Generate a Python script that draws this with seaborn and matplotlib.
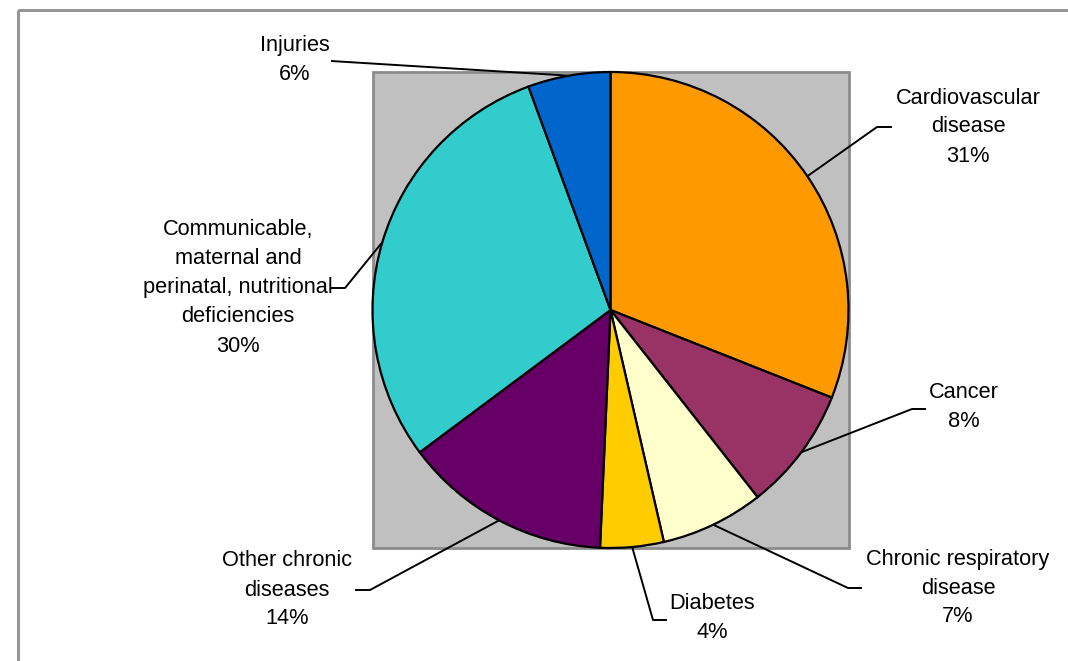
import numpy as np
import matplotlib
matplotlib.use('Agg')
import matplotlib.pyplot as plt
import seaborn as sns
from matplotlib.patches import Rectangle

# Share of deaths by cause (clockwise from 12 o'clock)
causes = ['Cardiovascular\ndisease', 'Cancer', 'Chronic respiratory\ndisease', 'Diabetes',
          'Other chronic\ndiseases', 'Communicable,\nmaternal and\nperinatal, nutritional\ndeficiencies',
          'Injuries']
shares = [31.0, 8.4, 7.0, 4.3, 14.1, 29.6, 5.6]
colors = ['#FF9900', '#993366', '#FFFFCC', '#FFCC00', '#660066', '#33CCCC', '#0066CC']

# label anchor (text centre x, text centre y) and elbow (x0, x1, y), in pixel layout coords
label_pos = [(968, 127), (964, 407), (958, 588), (712, 618), (287, 590), (238, 288), (295, 60)]
elbow = [(892, 877, 127), (926, 912, 409), (862, 848, 588), (667, 653, 620),
         (355, 370, 590), (331, 345, 288), (331, 331, 61)]

sns.set_style('white')
plt.rcParams['font.family'] = ['Liberation Sans', 'DejaVu Sans']

W, H = 1068, 661
fig = plt.figure(figsize=(W / 100, H / 100), dpi=100)
ax = fig.add_axes([0, 0, 1, 1])

# outer chart border
ax.add_patch(Rectangle((18, 10), W + 20, H + 20, facecolor='none', edgecolor='#969696', lw=2.2))

cx, cy, r = 610.5, 310, 238
# plot area background
ax.add_patch(Rectangle((cx - r, cy - r), 2 * r, 2 * r, facecolor='#C0C0C0', edgecolor='#8C8C8C', lw=2))

ax.set_xlim(0, W)
ax.set_ylim(H, 0)
# y axis is inverted, so counterclock=True draws clockwise on screen; start at top
wedges, _ = ax.pie(shares, colors=colors, startangle=-90, counterclock=True,
                   center=(cx, cy), radius=r, frame=True,
                   wedgeprops=dict(edgecolor='black', linewidth=1.6))
ax.set_xlim(0, W)
ax.set_ylim(H, 0)
ax.axis('off')

for w, name, val, (tx, ty), (ex0, ex1, ey) in zip(wedges, causes, shares, label_pos, elbow):
    ang = np.deg2rad((w.theta1 + w.theta2) / 2)
    px, py = cx + r * np.cos(ang), cy + r * np.sin(ang)
    ax.plot([ex0, ex1, px], [ey, ey, py], color='black', lw=1.4, solid_capstyle='butt')
    ax.text(tx, ty, f'{name}\n{val:.0f}%', ha='center', va='center', fontsize=15.7,
            linespacing=1.5, color='black')

fig.savefig('out.png', dpi=100)
